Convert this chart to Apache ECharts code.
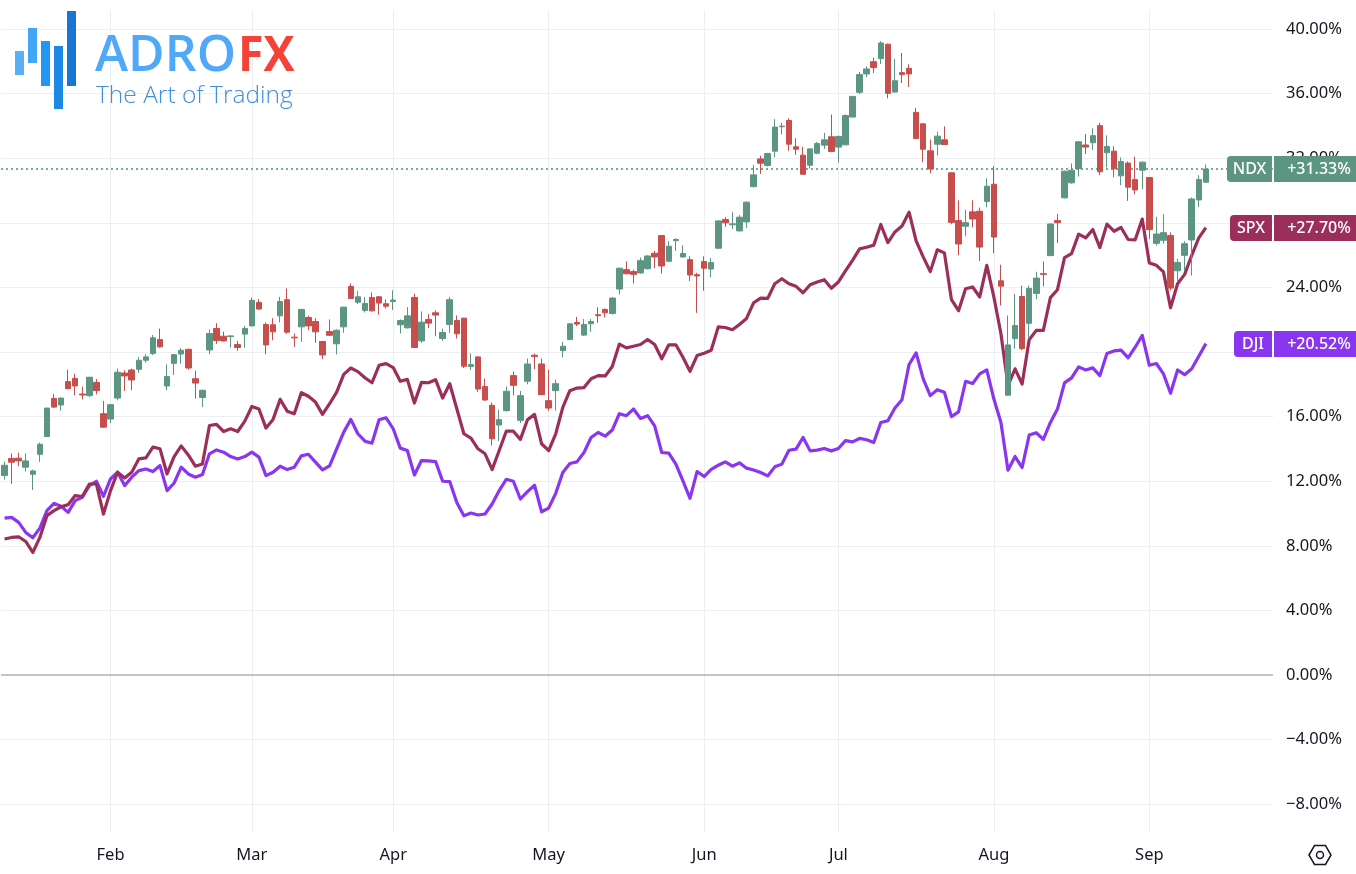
<!DOCTYPE html>
<html>
<head>
<meta charset="utf-8">
<style>html,body{margin:0;padding:0;background:#fff}#c{width:1356px;height:874px}</style>
<script src="https://cdn.jsdelivr.net/npm/echarts@6/dist/echarts.min.js"></script>
</head>
<body>
<div id="c"></div>
<script>
const monthLabels = ['Feb','Mar','Apr','May','Jun','Jul','Aug','Sep'];
const monthIndex = [15,35,55,77,99,118,140,162];
const yTicks = [-8,-4,0,4,8,12,16,20,24,28,32,36,40];
const tagNames = ['NDX','SPX','DJI'];
const tagValues = [31.33,27.70,20.52];
const tagTexts = ['+31.33%','+27.70%','+20.52%'];

// NDX: [open, close, low, high], percent
const ndx = [
[12.35,12.99,12.10,13.22],[13.41,13.18,11.83,13.72],[13.43,13.26,12.93,13.76],[12.87,13.26,12.60,13.72],[12.43,12.64,11.46,12.72],
[13.67,14.29,13.20,14.40],[14.77,16.53,14.73,16.55],[17.13,16.59,16.53,17.42],[16.72,17.15,16.37,17.19],[18.17,17.73,17.69,18.91],
[18.37,17.90,17.32,18.66],[17.40,17.34,17.07,17.86],[17.30,18.44,17.21,18.46],[18.12,17.61,17.38,18.33],[16.18,15.35,15.31,16.97],
[15.85,16.74,15.60,16.78],[17.15,18.75,17.01,18.97],[18.70,18.52,17.59,18.87],[18.89,18.27,17.63,18.97],[18.93,19.49,18.72,19.68],
[19.49,19.70,19.35,19.86],[19.91,20.88,19.82,21.06],[20.77,20.32,20.26,21.46],[17.90,18.48,17.63,19.24],[19.30,19.84,18.58,19.88],
[19.88,20.11,19.28,20.24],[20.17,19.01,18.91,20.21],[18.35,18.08,17.11,18.85],[17.19,17.63,16.59,17.67],[20.13,21.15,19.86,21.40],
[21.46,20.71,20.51,21.79],[20.98,20.69,20.65,21.27],[20.96,21.00,20.28,21.04],[20.46,20.28,20.07,20.69],[21.11,21.46,20.26,21.62],
[21.62,23.20,21.60,23.38],[23.07,22.66,22.62,23.28],[21.71,20.44,19.86,21.83],[21.69,21.25,20.73,22.10],[22.24,23.13,21.83,23.42],
[23.24,21.23,21.13,23.94],[20.92,20.88,20.32,21.15],[21.56,22.64,20.63,22.68],[22.14,21.62,21.35,22.26],[21.89,21.25,20.57,22.10],
[20.65,19.82,19.57,20.69],[21.27,21.04,21.00,22.02],[20.51,21.35,19.86,21.40],[21.56,22.78,21.19,22.80],[24.07,23.32,23.28,24.25],
[23.09,23.42,22.97,23.78],[22.58,23.01,22.45,23.42],[23.38,22.55,22.51,23.69],[23.42,23.03,22.31,23.47],[22.99,22.84,22.70,23.26],
[23.13,23.22,22.60,23.82],[21.69,21.95,21.15,22.02],[21.50,22.24,21.46,22.78],[23.38,20.28,20.26,23.61],[20.69,21.85,20.57,22.51],
[22.02,21.79,21.48,22.35],[22.43,22.29,20.98,22.58],[20.84,21.21,20.69,21.44],[21.71,23.24,21.19,23.42],[21.95,21.13,20.84,22.26],
[22.10,19.12,19.01,22.12],[19.10,19.22,18.89,19.91],[19.70,17.71,17.53,19.74],[17.86,17.03,16.99,18.35],[16.70,14.63,14.21,16.88],
[15.48,15.81,14.48,16.43],[16.37,17.57,16.32,17.86],[18.54,17.94,17.32,18.79],[15.77,17.30,15.60,17.59],[18.19,19.26,18.00,19.60],
[19.80,19.72,18.95,19.91],[19.26,17.36,17.34,19.60],[16.99,16.53,16.37,18.91],[17.61,18.04,16.37,18.29],[20.09,20.36,19.68,20.63],
[20.78,21.75,20.73,21.77],[21.83,21.73,21.60,22.18],[21.05,21.71,21.00,22.04],[21.75,21.89,21.25,22.04],[22.31,22.25,21.81,22.78],
[22.64,22.43,22.14,22.70],[22.39,23.34,22.33,23.40],[23.90,25.19,23.57,25.23],[25.10,24.85,24.81,25.62],[24.98,24.81,24.25,25.10],
[24.90,25.66,24.85,25.85],[25.16,25.95,25.12,25.99],[26.12,25.89,25.19,26.26],[27.21,25.33,24.87,27.23],[25.62,26.55,25.58,26.86],
[26.90,26.97,26.26,27.05],[25.89,26.10,25.85,26.61],[25.72,24.77,24.40,25.93],[24.79,24.71,22.43,24.90],[25.60,25.19,23.80,25.93],
[25.14,25.54,24.63,25.81],[26.43,28.12,26.39,28.15],[28.21,28.00,27.75,28.35],[27.88,27.94,27.61,28.66],[27.50,28.35,27.48,28.48],
[28.06,29.28,27.69,29.33],[30.24,30.97,30.20,31.59],[31.96,31.69,31.03,32.15],[31.55,32.29,31.49,32.33],[32.44,33.93,32.06,34.42],
[33.95,33.99,33.47,34.20],[34.34,32.87,32.46,34.47],[32.71,32.56,32.21,33.24],[32.19,31.01,31.01,32.71],[31.57,32.58,31.36,32.62],
[32.31,32.91,32.25,33.00],[32.81,33.14,32.58,33.57],[33.33,32.42,32.37,34.71],[32.69,33.35,31.73,33.41],[32.83,34.65,32.81,34.71],
[34.55,35.83,34.53,35.85],[36.08,37.18,35.98,37.34],[37.22,37.53,37.03,37.69],[37.98,37.61,37.28,38.23],[38.17,39.14,37.84,39.25],
[39.06,36.02,35.71,39.10],[36.10,36.80,36.08,38.15],[37.30,37.18,36.66,38.52],[37.57,37.22,36.41,37.82],[34.84,33.22,33.20,35.13],
[34.13,32.56,31.75,34.18],[32.46,31.34,31.07,33.16],[32.87,33.37,32.17,33.64],[33.14,32.85,32.83,33.97],[31.10,28.03,27.91,31.14],
[28.14,26.69,26.00,29.40],[27.79,28.01,27.17,28.82],[28.68,28.24,27.72,29.40],[28.72,26.50,25.63,28.95],[29.32,30.27,28.97,30.75],
[30.39,27.12,26.11,31.51],[24.41,24.08,22.88,25.41],[17.33,20.44,17.29,22.26],[20.83,21.64,20.21,23.60],[23.44,20.21,20.11,24.12],
[21.78,23.94,20.89,24.12],[23.63,24.58,23.27,24.97],[24.85,24.81,24.06,25.61],[25.97,27.93,25.95,27.95],[28.14,28.01,26.75,28.55],
[29.55,31.20,29.50,31.24],[30.48,31.26,30.42,31.68],[31.35,33.02,30.87,33.04],[32.82,32.69,32.26,33.50],[32.96,33.40,32.51,33.85],
[34.02,31.16,30.95,34.20],[32.34,32.73,31.43,33.42],[32.44,31.35,30.83,32.75],[30.91,31.80,30.33,32.05],[31.70,30.21,29.36,31.80],
[30.68,30.04,29.77,32.09],[31.26,31.76,30.08,31.80],[30.81,27.58,27.00,30.83],[26.73,27.31,26.59,28.37],[26.92,27.39,26.71,28.53],
[27.21,23.96,23.81,27.41],[25.03,25.55,24.33,25.78],[25.99,26.71,25.05,26.86],[26.94,29.48,24.74,29.57],[29.42,30.68,28.99,30.95],
[30.52,31.33,30.50,31.62]
];

const spx = [
8.42,8.52,8.56,8.27,7.59,8.52,9.87,10.18,10.42,10.55,11.11,11.05,11.83,11.83,9.97,11.42,12.56,12.20,12.56,13.38,
13.45,14.11,14.01,12.45,13.53,14.19,13.63,12.93,13.07,15.45,15.52,15.08,15.25,15.08,15.72,16.63,16.47,15.29,15.83,17.07,
16.34,16.18,17.48,17.26,16.90,16.14,16.80,17.52,18.62,19.01,18.79,18.41,18.10,19.18,19.28,19.04,18.19,18.31,16.84,18.12,
18.10,18.29,17.15,18.04,16.49,14.94,14.67,14.01,13.70,12.72,13.90,15.10,15.10,14.59,15.81,16.14,14.32,13.90,14.94,16.57,
17.61,17.77,17.80,18.35,18.54,18.52,19.10,20.49,20.26,20.36,20.47,20.78,20.47,19.58,20.45,20.45,19.68,18.81,19.78,19.93,
20.11,21.56,21.52,21.38,21.71,22.08,23.05,23.34,23.32,24.23,24.54,24.23,24.07,23.67,24.17,24.34,24.48,23.95,24.34,25.02,
25.68,26.39,26.49,26.62,27.90,26.78,27.44,27.80,28.66,26.88,25.89,24.98,26.33,26.14,23.24,22.56,23.92,24.03,23.41,25.37,
23.41,21.13,17.92,18.96,18.02,20.76,21.34,21.34,23.37,23.86,25.85,26.10,27.30,27.07,27.59,26.47,27.92,27.48,27.71,26.97,
26.95,28.23,25.52,25.37,24.96,22.74,24.23,24.81,25.99,27.07,27.70
];

const dji = [
9.72,9.76,9.45,8.83,8.50,9.10,10.18,10.63,10.45,10.07,10.80,11.00,11.73,12.00,11.07,12.14,12.56,11.73,12.25,12.66,
12.76,12.60,12.97,11.42,11.89,12.87,12.45,12.25,12.41,13.70,13.94,13.80,13.53,13.38,13.53,13.80,13.49,12.35,12.56,12.93,
12.72,12.87,13.57,13.67,13.18,12.70,12.95,14.01,15.04,15.83,14.94,14.48,14.36,15.81,15.93,15.25,14.05,13.90,12.39,13.28,
13.26,13.22,12.00,11.98,10.69,9.87,10.03,9.91,9.97,10.59,11.42,12.12,12.00,10.90,11.36,11.75,10.11,10.34,11.25,12.54,
13.10,13.20,13.78,14.71,15.02,14.79,15.17,16.18,16.06,16.47,15.89,16.06,15.43,13.78,13.74,13.06,12.02,10.94,12.60,12.29,
12.74,12.99,13.20,12.93,13.14,12.81,12.70,12.54,12.33,12.89,13.06,13.92,13.99,14.71,13.88,13.93,14.03,13.88,14.03,14.51,
14.44,14.65,14.57,14.40,15.64,15.75,16.53,17.05,19.23,19.95,18.34,17.30,17.67,17.51,16.00,16.29,18.19,18.05,18.65,18.89,
17.09,15.64,12.68,13.53,12.85,14.86,15.00,14.59,15.64,16.47,18.09,18.40,19.08,18.89,19.02,18.54,19.91,20.07,20.12,19.64,
20.30,21.03,19.18,19.29,18.65,17.45,18.89,18.60,18.96,19.74,20.52
];

const GREEN = '#5c9682', RED = '#c84d4d', MAROON = '#9b2f5a', PURPLE = '#8a35f0';
const tagColors = [GREEN, MAROON, PURPLE];
const tagLefts = [1227, 1230, 1234];
const GRID = '#eceef3', TEXT = '#131722', FONT = '"Noto Sans", "Open Sans", sans-serif';

const categories = Array.from({length: 180}, (_, i) => {
  const m = monthIndex.indexOf(i);
  return m >= 0 ? monthLabels[m] : 'd' + i;
});
const isMonth = i => monthIndex.includes(i);

const chart = echarts.init(document.getElementById('c'), null, {renderer: 'canvas'});
chart.setOption({
  animation: false,
  backgroundColor: '#ffffff',
  grid: {left: 1, top: 10, width: 1272, height: 822, containLabel: false},
  xAxis: {
    type: 'category',
    data: categories,
    boundaryGap: true,
    axisLine: {show: false},
    axisTick: {show: false, alignWithLabel: true, interval: isMonth},
    splitLine: {show: true, alignWithLabel: true, interval: isMonth, lineStyle: {color: GRID, width: 1}},
    axisLabel: {interval: isMonth, color: TEXT, fontFamily: FONT, fontSize: 16.5, margin: 15}
  },
  yAxis: {
    type: 'value',
    position: 'right',
    min: -9.72,
    max: 41.18,
    axisLine: {show: false},
    axisTick: {show: false, customValues: yTicks},
    splitLine: {show: true, lineStyle: {color: GRID, width: 1}},
    axisLabel: {
      customValues: yTicks,
      color: TEXT, fontFamily: FONT, fontSize: 16.5, margin: 13, padding: [3, 0, 0, 0],
      formatter: v => (v < 0 ? '\u2212' : '') + Math.abs(v).toFixed(2) + '%'
    }
  },
  series: [
    {
      name: 'DJI', type: 'line', data: dji, z: 3, symbol: 'none', showSymbol: false,
      lineStyle: {color: PURPLE, width: 3.2, join: 'round'},
      markLine: {
        silent: true, symbol: 'none', label: {show: false}, z: 2,
        data: [{yAxis: 0}],
        lineStyle: {color: '#b0b2ba', width: 1.5, type: 'solid'}
      }
    },
    {
      name: 'SPX', type: 'line', data: spx, z: 4, symbol: 'none', showSymbol: false,
      lineStyle: {color: MAROON, width: 3.2, join: 'round'}
    },
    {
      name: 'NDX', type: 'candlestick', data: ndx, z: 5, barWidth: 6,
      itemStyle: {color: GREEN, color0: RED, borderColor: GREEN, borderColor0: RED, borderWidth: 1},
      markLine: {
        silent: true, symbol: 'none', label: {show: false},
        data: [{yAxis: tagValues[0]}],
        lineStyle: {color: '#4f8f78', width: 1.5, type: [2, 3]}
      }
    },
    {
      type: 'custom', z: 10, clip: false, silent: true,
      data: tagValues.map((v, i) => [170, v]),
      renderItem: (params, api) => {
        const i = params.dataIndex;
        const y = Math.round(api.coord([0, api.value(1)])[1]);
        const left = tagLefts[i], c = tagColors[i];
        const font = '500 16px ' + FONT;
        return {type: 'group', children: [
          {type: 'rect', shape: {x: left, y: y - 13, width: 1272 - left, height: 26, r: [4, 0, 0, 4]}, style: {fill: c}},
          {type: 'rect', shape: {x: 1274, y: y - 13, width: 82, height: 26}, style: {fill: c}},
          {type: 'text', style: {text: tagNames[i], x: (left + 1272) / 2, y: y, textAlign: 'center', textVerticalAlign: 'middle', fill: '#fff', font}},
          {type: 'text', style: {text: tagTexts[i], x: 1319, y: y, textAlign: 'center', textVerticalAlign: 'middle', fill: '#fff', font}}
        ]};
      }
    }
  ],
  graphic: [
    {type: 'rect', z: 20, shape: {x: 15, y: 51, width: 9, height: 24}, style: {fill: '#5ab0f8'}},
    {type: 'rect', z: 20, shape: {x: 28, y: 28, width: 9, height: 35}, style: {fill: '#42a5f5'}},
    {type: 'rect', z: 20, shape: {x: 41, y: 41, width: 9, height: 45}, style: {fill: '#2196f3'}},
    {type: 'rect', z: 20, shape: {x: 54, y: 46, width: 9, height: 63}, style: {fill: '#1e88e5'}},
    {type: 'rect', z: 20, shape: {x: 67, y: 11, width: 9, height: 75}, style: {fill: '#1976d2'}},
    {type: 'text', z: 20, x: 95, y: 57, style: {text: 'ADRO', textVerticalAlign: 'middle', fill: '#4fa8f8', font: '600 50px "Open Sans"'}},
    {type: 'text', z: 20, x: 238, y: 57, scaleX: 0.95, style: {text: 'FX', textVerticalAlign: 'middle', fill: '#f44336', font: '700 49px "Open Sans"'}},
    {type: 'text', z: 20, x: 96, y: 96, style: {text: 'The Art of Trading', textVerticalAlign: 'middle', fill: '#3f8fdf', font: '300 24.5px "Open Sans"'}},
    {type: 'polygon', z: 20, shape: {points: [[1309,855],[1314.5,845.5],[1325.5,845.5],[1331,855],[1325.5,864.5],[1314.5,864.5]]}, style: {fill: 'none', stroke: TEXT, lineWidth: 1.5}},
    {type: 'circle', z: 20, shape: {cx: 1320, cy: 855, r: 3.5}, style: {fill: 'none', stroke: TEXT, lineWidth: 1.5}}
  ]
});
</script>
</body>
</html>
